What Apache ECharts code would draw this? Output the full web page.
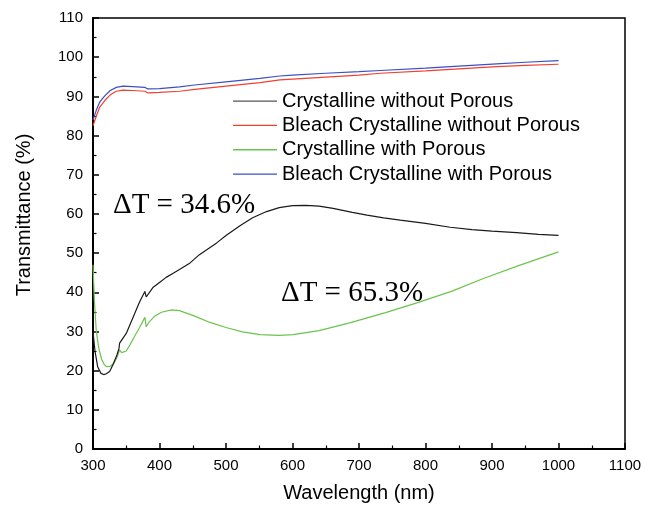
<!DOCTYPE html>
<html>
<head>
<meta charset="utf-8">
<script src="https://cdn.jsdelivr.net/npm/echarts@6/dist/echarts.min.js"></script>
<style>html,body{margin:0;padding:0;background:#fff}#c{width:645px;height:508px}</style>
</head>
<body>
<div id="c"></div>
<script>
// Crystalline without Porous (black)
var wlBlack = [300,303,307,312,316,320,325,330,336,339,340,341,350,360,370,378,380,382,390,400,410,420,430,446,460,486,500,521,540,561,580,600,620,640,661,690,712,737,762,800,837,870,900,937,970,1000];
var tBlack  = [30,25,21,19.3,19,19.2,19.8,21.5,24,25.6,27,26.7,29.5,33.5,37.5,40.2,38.8,39.3,41.2,42.5,43.8,44.8,45.8,47.5,49.6,52.6,54.5,57,59,60.6,61.6,62.1,62.2,62,61.4,60.4,59.7,59,58.4,57.6,56.6,56,55.6,55.2,54.8,54.5];
// Crystalline with Porous (green)
var wlGreen = [300,302,305,309,313,317,321,326,331,336,340,343,346,350,356,363,370,378,380,384,392,403,418,430,453,476,500,525,551,580,601,640,686,740,787,840,887,940,1000];
var tGreen  = [47,38,30,25.5,22.9,21.5,21,21.1,21.8,23.3,25.3,24.6,24.4,25,26.7,28.9,31,33.6,31.2,32.3,33.8,34.9,35.5,35.3,33.9,32.3,31,29.9,29.2,29,29.2,30.2,32.2,34.8,37.3,40.3,43.5,46.8,50.3];
// Bleach Crystalline (red: without porous, blue: with porous)
var wlBleach = [300,305,310,318,326,335,345,360,378,382,400,430,453,500,551,581,600,650,700,732,800,850,907,950,1000];
var tRed  = [82.5,85,87.2,89,90.4,91.3,91.6,91.5,91.3,90.9,91,91.3,91.8,92.6,93.5,94.2,94.4,94.9,95.4,95.9,96.5,97,97.6,97.9,98.2];
var tBlue = [84,86.5,88.5,90.2,91.5,92.3,92.6,92.5,92.3,91.9,92,92.4,92.9,93.7,94.6,95.2,95.4,95.9,96.3,96.6,97.2,97.7,98.3,98.7,99.1];

var names = ['Crystalline without Porous','Bleach Crystalline without Porous','Crystalline with Porous','Bleach Crystalline with Porous'];
var xTicks = [300,400,500,600,700,800,900,1000,1100];
var yTicks = [0,10,20,30,40,50,60,70,80,90,100,110];
var dT1 = 'ΔT = 34.6%';
var dT2 = 'ΔT = 65.3%';

function pairs(xs, ys){ return xs.map(function(x,i){ return [x, ys[i]]; }); }

var chart = echarts.init(document.getElementById('c'));
var lineFont = 'Liberation Sans, Arial, sans-serif';
var axisCommon = {
  axisLine:{show:true, onZero:false, lineStyle:{color:'#000', width:2}},
  axisTick:{show:true, inside:true, length:6, lineStyle:{color:'#000', width:1.5}},
  minorTick:{show:true, splitNumber:2, length:3.5, lineStyle:{color:'#000', width:1.2}},
  splitLine:{show:false},
  axisLabel:{color:'#000', fontSize:15, fontFamily:lineFont, formatter:function(v){return String(v);}}
};
chart.setOption({
  animation:false,
  grid:{left:93, right:20, top:18, bottom:58, show:true, borderColor:'#000', borderWidth:1.5, backgroundColor:'transparent'},
  xAxis: Object.assign({}, axisCommon, {
    type:'value', min:xTicks[0], max:xTicks[xTicks.length-1], interval:100,
    axisLabel:Object.assign({}, axisCommon.axisLabel, {margin:9}),
    name:'Wavelength (nm)', nameLocation:'middle', nameGap:34,
    nameTextStyle:{color:'#000', fontSize:20, fontFamily:lineFont}
  }),
  yAxis: Object.assign({}, axisCommon, {
    type:'value', min:yTicks[0], max:yTicks[yTicks.length-1], interval:10,
    axisLabel:Object.assign({}, axisCommon.axisLabel, {margin:10})
  }),
  legend:{
    orient:'vertical', left:228, top:84, itemGap:0, itemWidth:44, itemHeight:1.3, icon:'rect',
    data:names,
    textStyle:{color:'#000', fontSize:20, lineHeight:24.3, fontFamily:lineFont}
  },
  graphic:[
    {type:'text', x:24, y:215, rotation:Math.PI/2,
      style:{text:'Transmittance (%)', fill:'#000', font:'20px Liberation Sans, Arial, sans-serif', textAlign:'center', textVerticalAlign:'middle'}},
    {type:'text', x:113, y:205,
      style:{text:dT1, fill:'#000', font:'29px Liberation Serif, Times New Roman, serif', textAlign:'left', textVerticalAlign:'middle'}},
    {type:'text', x:281, y:293,
      style:{text:dT2, fill:'#000', font:'29px Liberation Serif, Times New Roman, serif', textAlign:'left', textVerticalAlign:'middle'}}
  ],
  series:[
    {name:names[0], type:'line', symbol:'none', data:pairs(wlBlack,tBlack), lineStyle:{color:'#1a1a1a', width:1.2}, itemStyle:{color:'#555'}, z:3},
    {name:names[1], type:'line', symbol:'none', data:pairs(wlBleach,tRed), lineStyle:{color:'#f2402f', width:1.2}, itemStyle:{color:'#f2402f'}, z:2},
    {name:names[2], type:'line', symbol:'none', data:pairs(wlGreen,tGreen), lineStyle:{color:'#6bc44d', width:1.2}, itemStyle:{color:'#6bc44d'}, z:2},
    {name:names[3], type:'line', symbol:'none', data:pairs(wlBleach,tBlue), lineStyle:{color:'#3b4fc4', width:1.2}, itemStyle:{color:'#3b4fc4'}, z:2}
  ]
});
</script>
</body>
</html>
